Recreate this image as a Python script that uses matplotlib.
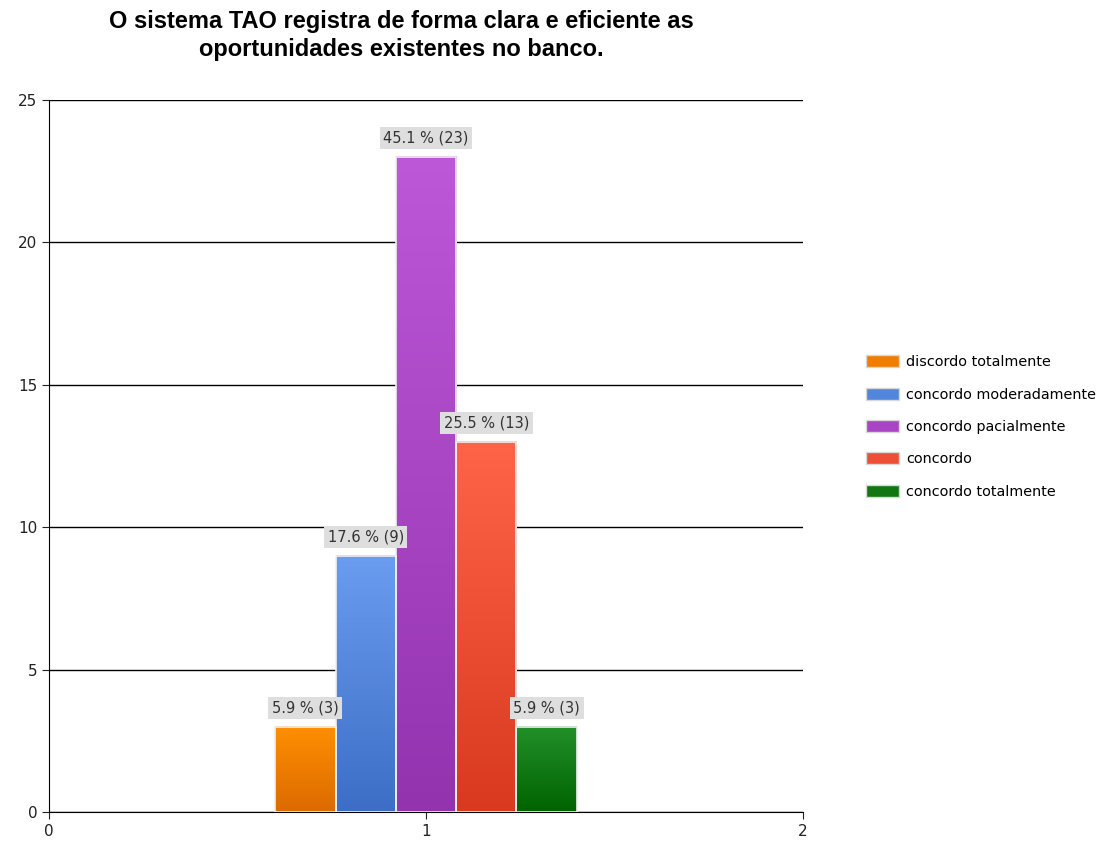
import numpy as np
import matplotlib.pyplot as plt
from matplotlib.patches import Patch
from matplotlib.colors import LinearSegmentedColormap

categories = ["discordo totalmente", "concordo moderadamente", "concordo pacialmente",
              "concordo", "concordo totalmente"]
counts = [3, 9, 23, 13, 3]
labels = ["5.9 % (3)", "17.6 % (9)", "45.1 % (23)", "25.5 % (13)", "5.9 % (3)"]
# (top colour, bottom colour) of each gradient bar
top_cols = ["#ff8f00", "#6a9cf0", "#bd58d8", "#ff6448", "#22902a"]
bot_cols = ["#dc6a00", "#3d6ec6", "#9333ae", "#d8391f", "#006300"]
mid_cols = ["#f07c00", "#5286dc", "#a944c4", "#ec4f35", "#117811"]

fig = plt.figure(figsize=(11.06, 8.43), dpi=100)
ax = fig.add_axes([49/1106, 31/843, 754/1106, 712/843])

width = 0.16
x0 = 1 - 2 * width
for i, (c, t, b) in enumerate(zip(counts, top_cols, bot_cols)):
    xc = x0 + i * width
    cmap = LinearSegmentedColormap.from_list("g", [b, t])
    grad = np.linspace(0, 1, 256).reshape(-1, 1)
    ax.imshow(grad, cmap=cmap, origin="lower", aspect="auto",
              extent=[xc - width/2, xc + width/2, 0, c], zorder=3)
    ax.bar(xc, c, width=width, facecolor="none", edgecolor="#f0f0f0", lw=1.2, zorder=4)
    ax.annotate(labels[i], (xc, c), xytext=(0, 13.5), textcoords="offset points",
                ha="center", va="center", fontsize=10.5, color="#333333",
                bbox=dict(boxstyle="square,pad=0.25", fc="#dedede", ec="none"), zorder=5)

ax.set_xlim(0, 2)
ax.set_ylim(0, 25)
ax.set_xticks([0, 1, 2])
ax.set_yticks([0, 5, 10, 15, 20, 25])
ax.tick_params(labelsize=11, colors="#222222", length=5)
ax.yaxis.grid(True, color="black", lw=1)
ax.set_axisbelow(True)
for s in ["top", "right"]:
    ax.spines[s].set_visible(False)

handles = [Patch(facecolor=m, edgecolor="#d8d8d8") for m in mid_cols]
fig.legend(handles, categories, loc="center left", bbox_to_anchor=(0.783, 0.4935),
           frameon=False, fontsize=10.4, handlelength=2.3, handleheight=0.9,
           labelspacing=1.27, handletextpad=0.5, borderaxespad=0, borderpad=0)

fig.text(0.363, 0.958, "O sistema TAO registra de forma clara e eficiente as\noportunidades existentes no banco.",
         ha="center", va="center", fontsize=17, fontweight="bold", family="Liberation Sans",
         linespacing=1.3)

fig.savefig("out.png")
